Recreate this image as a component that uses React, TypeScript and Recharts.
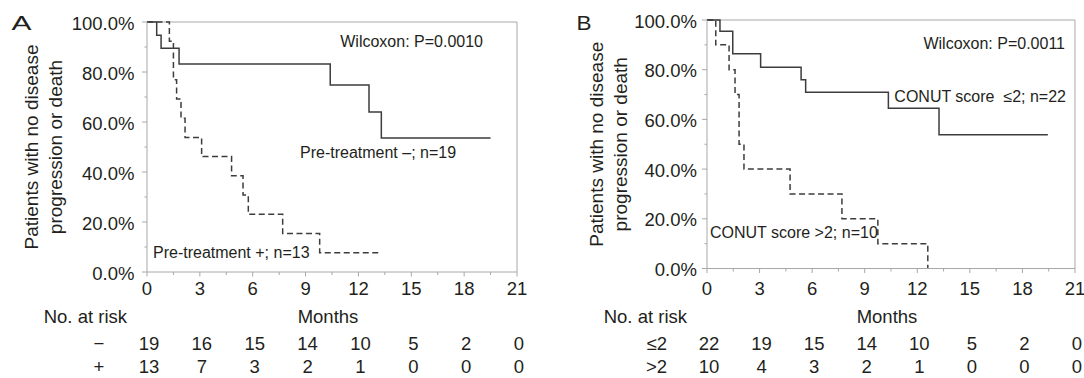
import React from 'react';
import { LineChart, Line, XAxis, YAxis, ReferenceLine } from 'recharts';

// ---------- shared ticks ----------
const monthTicks = [0, 1.5, 3, 4.5, 6, 7.5, 9, 10.5, 12, 13.5, 15, 16.5, 18, 19.5, 21];
const pctTicks = [0, 10, 20, 30, 40, 50, 60, 70, 80, 90, 100];

// ---------- Panel A ----------
const aNegTime = [0, 0.55, 0.8, 1.82, 10.4, 12.6, 13.3, 19.5];
const aNegSurv = [100, 94.7, 89.5, 83.2, 74.8, 64.0, 53.6, 53.6];
const aPosTime = [0, 1.27, 1.5, 1.68, 1.93, 2.16, 3.1, 4.8, 5.45, 5.75, 7.7, 9.8, 13.2];
const aPosSurv = [100, 92.3, 76.9, 69.2, 61.5, 53.8, 46.2, 38.5, 30.8, 23.1, 15.4, 7.7, 7.7];
const aRiskNeg = [19, 16, 15, 14, 10, 5, 2, 0];
const aRiskPos = [13, 7, 3, 2, 1, 0, 0, 0];
const aRowLabels = ['\u2212', '+'];

// ---------- Panel B ----------
const bLowTime = [0, 0.74, 1.47, 3.06, 5.37, 5.63, 10.35, 13.24, 19.45];
const bLowSurv = [100, 95.5, 86.4, 81.0, 76.0, 70.9, 64.5, 53.8, 53.8];
const bHighTime = [0, 0.5, 1.26, 1.6, 1.83, 2.11, 4.74, 7.7, 9.75, 12.6];
const bHighSurv = [100, 90, 80, 70, 50, 40, 30, 20, 10, 0];
const bRiskLow = [22, 19, 15, 14, 10, 5, 2, 0];
const bRiskHigh = [10, 4, 3, 2, 1, 0, 0, 0];
const bRowLabels = ['\u22642', '>2'];

const FONT = "'Liberation Sans', Arial, Helvetica, sans-serif";
const TEXT = '#231f20';
const AXIS = '#a8a8a8';
const CURVE = '#3d3d3d';

const toRows = (t: number[], s: number[]) => t.map((v, i) => ({ t: v, s: s[i] }));

type PanelCfg = {
  labelY: number;
  headY: number;
  row1Y: number;
  row2Y: number;
  risk1: number[];
  risk2: number[];
  rowLabels: string[];
  rowLabelDx: number;
  rowLabelAnchor: 'middle' | 'end';
  yLabelGap: number;
  title1Dx: number;
  title2Dx: number;
};

const makeXTick = (cfg: PanelCfg) => (props: any) => {
  const { x, y, payload } = props;
  const v = payload.value as number;
  const major = Math.abs(v % 3) < 1e-9;
  const idx = Math.round(v / 3);
  const ts = { fontFamily: FONT, fontSize: 18.5, fill: TEXT } as const;
  return (
    <g>
      <line x1={x} x2={x} y1={y} y2={y + (major ? 4.5 : 3)} stroke={AXIS} strokeWidth={1} />
      {major && (
        <text x={x} y={cfg.labelY} textAnchor="middle" style={ts}>{v}</text>
      )}
      {major && (
        <text x={x + 2} y={cfg.row1Y} textAnchor="middle" style={ts}>{cfg.risk1[idx]}</text>
      )}
      {major && (
        <text x={x + 2} y={cfg.row2Y} textAnchor="middle" style={ts}>{cfg.risk2[idx]}</text>
      )}
      {v === 0 && (
        <g>
          <text x={x - 20} y={cfg.headY} textAnchor="end" style={ts}>No. at risk</text>
          <text x={x + cfg.rowLabelDx} y={cfg.row1Y} textAnchor={cfg.rowLabelAnchor} style={ts}>{cfg.rowLabels[0]}</text>
          <text x={x + cfg.rowLabelDx} y={cfg.row2Y} textAnchor={cfg.rowLabelAnchor} style={ts}>{cfg.rowLabels[1]}</text>
        </g>
      )}
      {v === 10.5 && (
        <text x={x - 4} y={cfg.headY} textAnchor="middle" style={ts}>Months</text>
      )}
    </g>
  );
};

const makeYTick = (cfg: PanelCfg) => (props: any) => {
  const { x, y, payload } = props;
  const v = payload.value as number;
  const major = v % 20 === 0;
  const ts = { fontFamily: FONT, fontSize: 18.5, fill: TEXT } as const;
  const tt = { fontFamily: FONT, fontSize: 19, fill: TEXT } as const;
  return (
    <g>
      <line x1={x - (major ? 5 : 2.5)} x2={x} y1={y} y2={y} stroke={AXIS} strokeWidth={1} />
      {major && (
        <text x={x - cfg.yLabelGap} y={y + 7.5} textAnchor="end" style={ts}>{v.toFixed(1) + '%'}</text>
      )}
      {v === 50 && (
        <g>
          <text x={x + cfg.title1Dx} y={y} textAnchor="middle" transform={`rotate(-90 ${x + cfg.title1Dx} ${y})`} style={tt}>
            Patients with no disease
          </text>
          <text x={x + cfg.title2Dx} y={y} textAnchor="middle" transform={`rotate(-90 ${x + cfg.title2Dx} ${y})`} style={tt}>
            progression or death
          </text>
        </g>
      )}
    </g>
  );
};

const cfgA: PanelCfg = {
  labelY: 295, headY: 322.7, row1Y: 350, row2Y: 372.7,
  risk1: aRiskNeg, risk2: aRiskPos, rowLabels: aRowLabels,
  rowLabelDx: -48, rowLabelAnchor: 'middle', yLabelGap: 12.5,
  title1Dx: -109.5, title2Dx: -85.5,
};
const cfgB: PanelCfg = {
  labelY: 295, headY: 322.7, row1Y: 349.5, row2Y: 372.7,
  risk1: bRiskLow, risk2: bRiskHigh, rowLabels: bRowLabels,
  rowLabelDx: -40, rowLabelAnchor: 'end', yLabelGap: 10,
  title1Dx: -104, title2Dx: -80,
};

function Panel(props: {
  width: number; left: number; margin: any; yWidth: number; cfg: PanelCfg;
  solid: { t: number; s: number }[]; dashed: { t: number; s: number }[];
}) {
  const { width, left, margin, yWidth, cfg, solid, dashed } = props;
  return (
    <div style={{ position: 'absolute', left, top: 0 }}>
      <LineChart width={width} height={378} margin={margin}>
        <XAxis
          dataKey="t" type="number" domain={[0, 21]} ticks={monthTicks} interval={0}
          height={30} tickSize={0} tickMargin={0} stroke={AXIS} tickLine={false}
          tick={makeXTick(cfg)} allowDataOverflow
        />
        <YAxis
          type="number" domain={[0, 100]} ticks={pctTicks} interval={0}
          width={yWidth} tickSize={0} tickMargin={0} stroke={AXIS} tickLine={false}
          tick={makeYTick(cfg)}
        />
        <ReferenceLine y={100} stroke={AXIS} strokeWidth={1} ifOverflow="visible" />
        <ReferenceLine x={21} stroke={AXIS} strokeWidth={1} ifOverflow="visible" />
        <Line data={solid} dataKey="s" type="stepAfter" stroke={CURVE} strokeWidth={1.5} dot={false} isAnimationActive={false} />
        <Line data={dashed} dataKey="s" type="stepAfter" stroke={CURVE} strokeWidth={1.5} strokeDasharray="6 3.5" dot={false} isAnimationActive={false} />
      </LineChart>
    </div>
  );
}

export default function App() {
  const ann = { fontFamily: FONT, fontSize: 16, fill: TEXT, whiteSpace: 'pre' } as any;
  return (
    <div style={{ position: 'absolute', left: 0, top: 0, width: 1084, height: 378, background: '#fff', overflow: 'hidden' }}>
      <Panel
        width={540} left={0} yWidth={147}
        margin={{ top: 22, right: 23, bottom: 76, left: 0 }}
        cfg={cfgA} solid={toRows(aNegTime, aNegSurv)} dashed={toRows(aPosTime, aPosSurv)}
      />
      <Panel
        width={544} left={540} yWidth={167}
        margin={{ top: 20, right: 9, bottom: 79.5, left: 0 }}
        cfg={cfgB} solid={toRows(bLowTime, bLowSurv)} dashed={toRows(bHighTime, bHighSurv)}
      />
      <svg width={1084} height={378} style={{ position: 'absolute', left: 0, top: 0, pointerEvents: 'none' }}>
        <text x={11.5} y={30} textLength={20} lengthAdjust="spacingAndGlyphs" style={{ fontFamily: FONT, fontSize: 21, fill: TEXT }}>A</text>
        <text x={576.5} y={30} textLength={15} lengthAdjust="spacingAndGlyphs" style={{ fontFamily: FONT, fontSize: 21, fill: TEXT }}>B</text>
        <text x={483} y={47} textAnchor="end" style={ann}>Wilcoxon: P=0.0010</text>
        <text x={300} y={158} textAnchor="start" style={ann}>Pre-treatment {'\u2013'}; n=19</text>
        <text x={153} y={258} textAnchor="start" style={ann}>Pre-treatment +; n=13</text>
        <text x={1065} y={49} textAnchor="end" style={ann}>Wilcoxon: P=0.0011</text>
        <text x={1066} y={101.5} textAnchor="end" style={ann}>{'CONUT score  \u22642; n=22'}</text>
        <text x={710} y={238} textAnchor="start" style={ann}>CONUT score &gt;2; n=10</text>
      </svg>
    </div>
  );
}
